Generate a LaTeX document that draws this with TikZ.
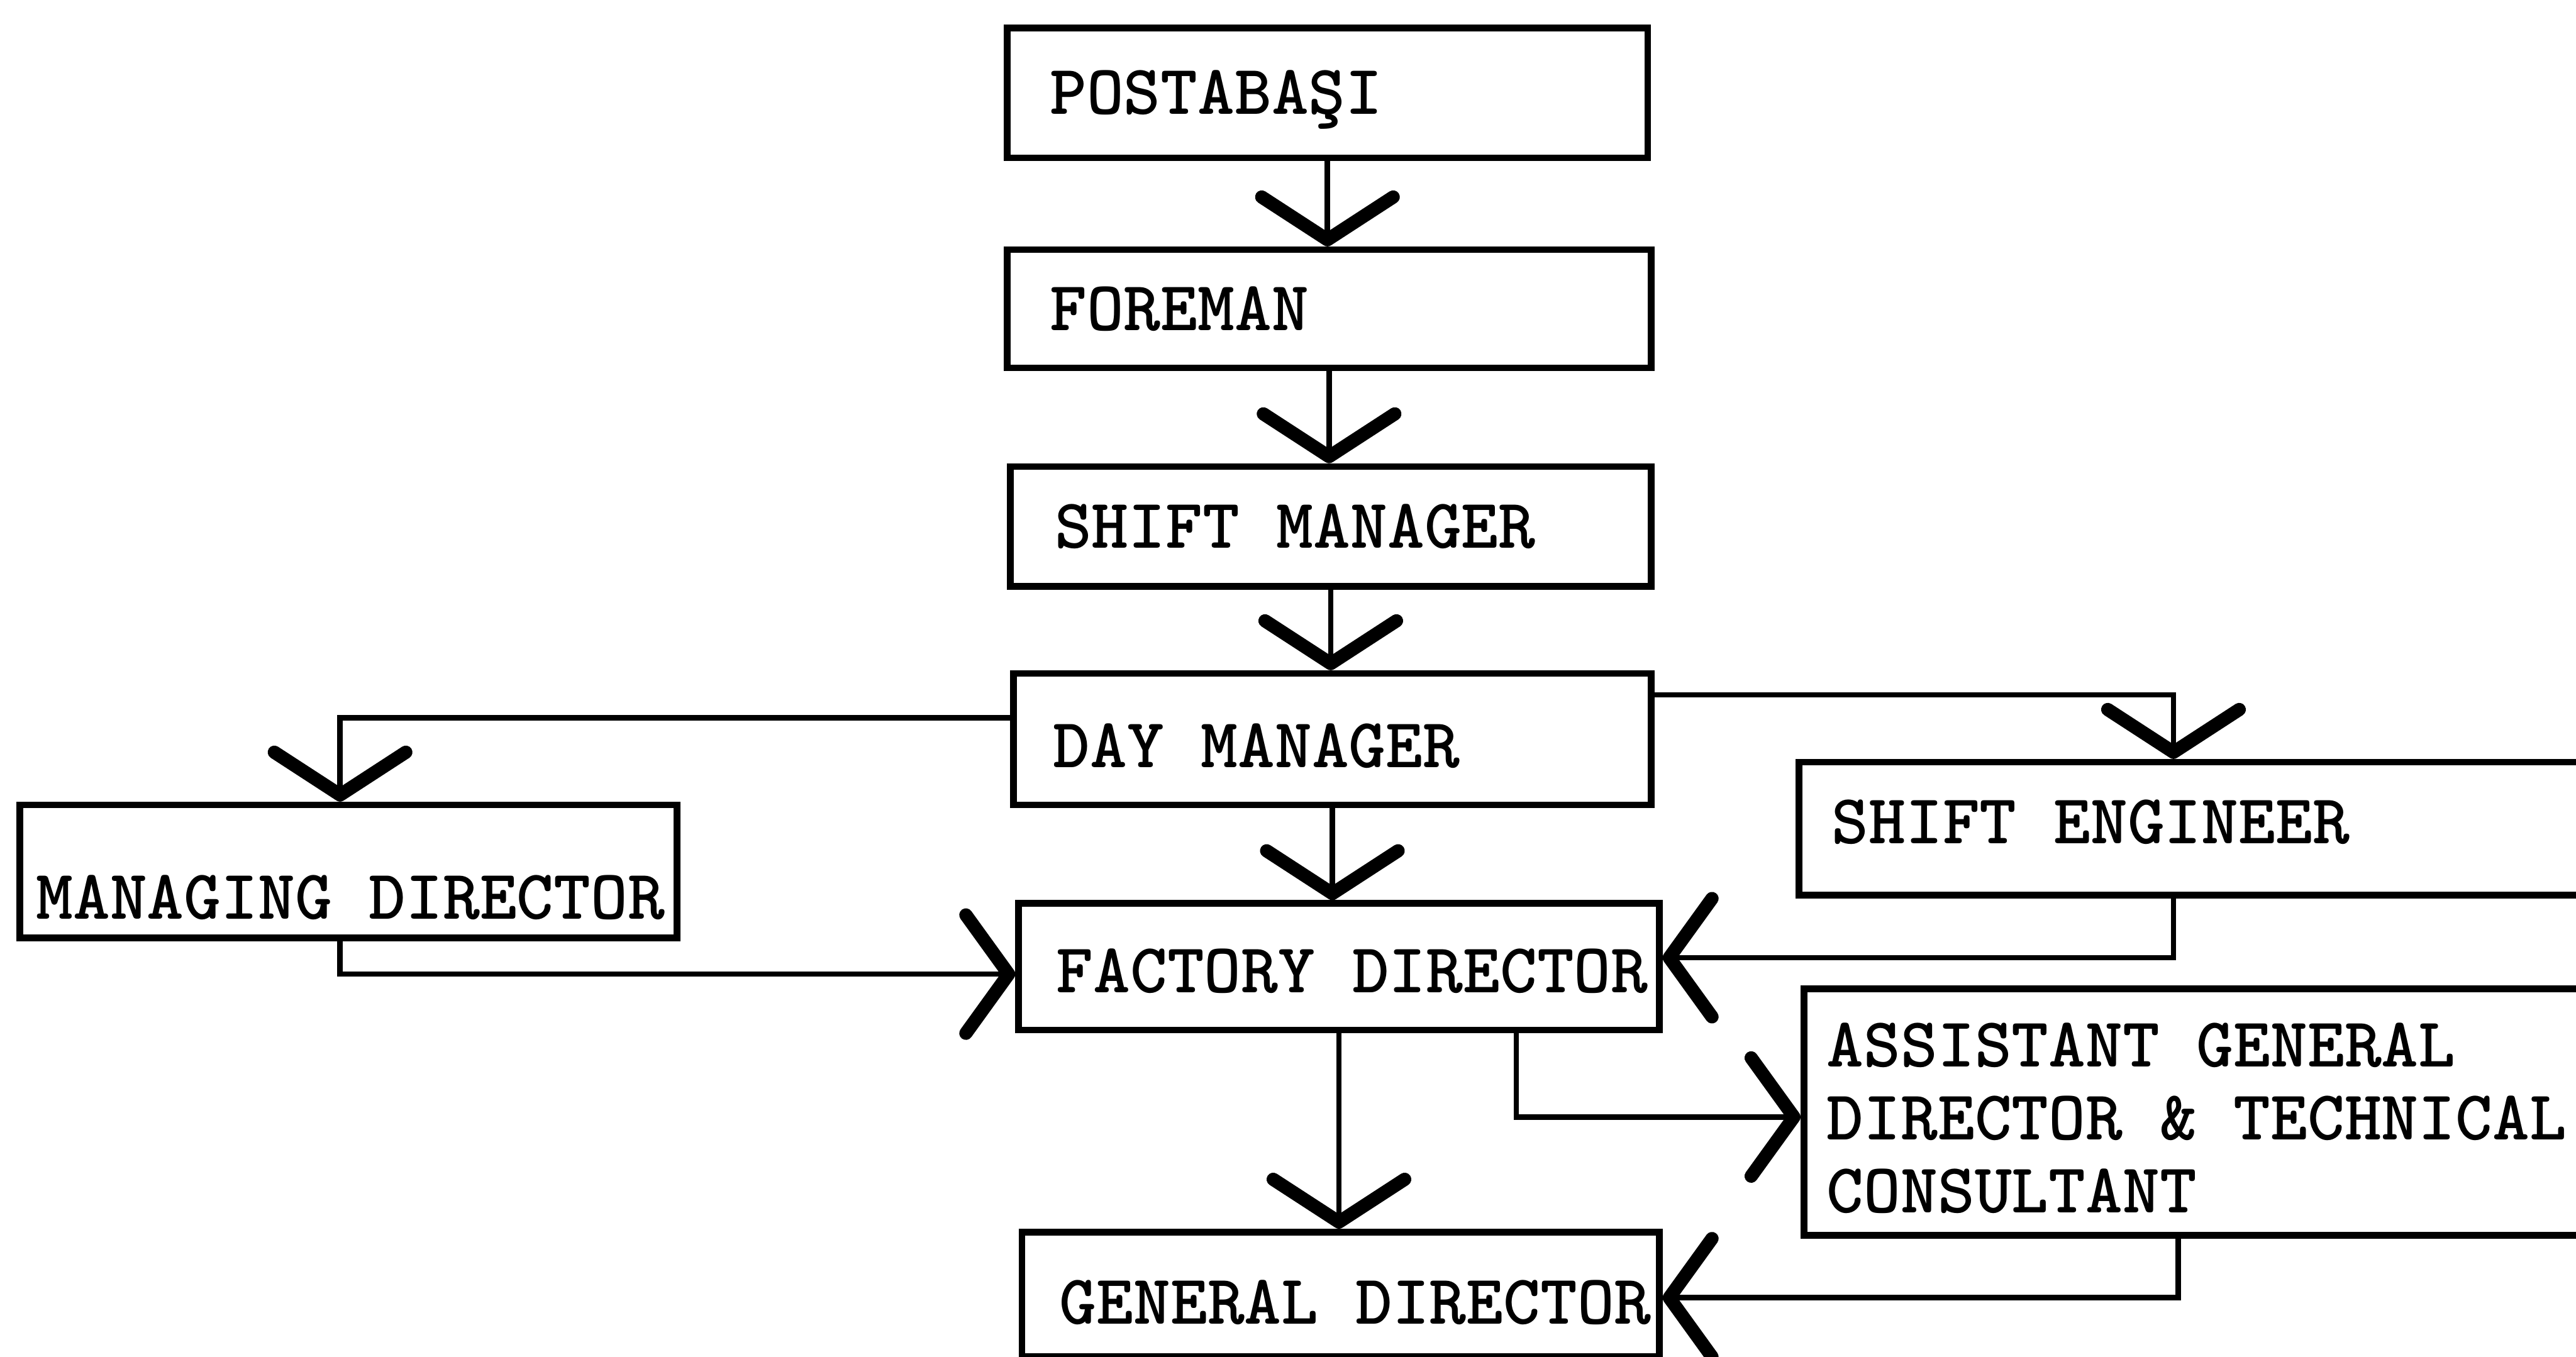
\documentclass[tikz,border=0pt]{standalone}
\usetikzlibrary{arrows.meta}
\newcommand{\orgfont}{\fontsize{24.4pt}{25.2pt}\selectfont\ttfamily\bfseries}
\newcommand{\bt}[3]{\makebox[#1][l]{\hspace*{#2}#3}}
\tikzset{
  orgbox/.style={draw, rectangle, line width=2.3pt, inner xsep=0pt, inner ysep=0pt,
    font=\orgfont, text height=5.24mm, text depth=0pt},
  conn/.style={line width=1.9pt},
  vtip/.style={-{Straight Barb[length=5.2mm,width=16mm,line width=4.6pt,round]}},
  htip/.style={-{Straight Barb[length=5.2mm,width=14.4mm,line width=4.6pt,round]}},
}
\begin{document}
\begin{tikzpicture}[x=0.2mm,y=-0.2mm]
\clip (0,0) rectangle (1568,826);
\fill[white] (0,0) rectangle (1568,826);

\node[orgbox, minimum width=78mm, minimum height=15.8mm] (post) at (808,56.5) {\bt{78mm}{5.2mm}{POSTABAŞI}};
\node[orgbox, minimum width=78.4mm, minimum height=14.4mm] (fore) at (809,188) {\bt{78.4mm}{5.2mm}{FOREMAN}};
\node[orgbox, minimum width=78mm, minimum height=14.6mm] (shift) at (810,320.5) {\bt{78mm}{5.4mm}{SHIFT MANAGER}};
\node[orgbox, minimum width=77.6mm, minimum height=16mm, text height=6.84mm] (day) at (811,450) {\bt{77.6mm}{4.8mm}{DAY MANAGER}};
\node[orgbox, minimum width=80mm, minimum height=16.2mm, text height=11.64mm] (mand) at (212,530.5) {\bt{80mm}{2mm}{MANAGING DIRECTOR}};
\node[orgbox, minimum width=113mm, minimum height=16.2mm, text height=3.64mm] (seng) at (1377.5,504.5) {\bt{113mm}{4mm}{SHIFT ENGINEER}};
\node[orgbox, minimum width=78mm, minimum height=15.4mm, text height=6.24mm] (fact) at (815,588.5) {\bt{78mm}{4.6mm}{FACTORY DIRECTOR}};
\node[orgbox, minimum width=112.4mm, minimum height=30mm, text height=5.24mm, text depth=16.2mm] (asst) at (1379,677)
  {\bt{112.4mm}{2.8mm}{\parbox[t]{105mm}{\orgfont ASSISTANT GENERAL\\DIRECTOR \& TECHNICAL\\CONSULTANT}}};
\node[orgbox, minimum width=77.6mm, minimum height=15.2mm, text height=7.24mm] (gen) at (816,788) {\bt{77.6mm}{4.6mm}{GENERAL DIRECTOR}};

\draw[conn, vtip] (post.south) -- (post.south |- fore.north);
\draw[conn, vtip] (fore.south) -- (fore.south |- shift.north);
\draw[conn, vtip] (shift.south) -- (shift.south |- day.north);
\draw[conn, vtip] (day.south) -- (day.south |- fact.north);
\draw[conn, vtip] (fact.south) -- (fact.south |- gen.north);
\draw[conn, vtip] ([yshift=2.6mm]day.west) -| ([xshift=-1mm]mand.north);
\draw[conn, vtip] ([yshift=5.4mm]day.east) -| ([xshift=46mm]seng.north west);
\draw[conn, htip] ([xshift=-1mm]mand.south) |- ([yshift=-0.9mm]fact.west);
\draw[conn, htip] ([xshift=46mm]seng.south west) |- ([yshift=1.1mm]fact.east);
\draw[conn, htip] ([xshift=61mm]fact.south west) |- ([yshift=-0.6mm]asst.west);
\draw[conn, htip] ([xshift=46mm]asst.south west) |- ([yshift=-0.4mm]gen.east);
\end{tikzpicture}
\end{document}
